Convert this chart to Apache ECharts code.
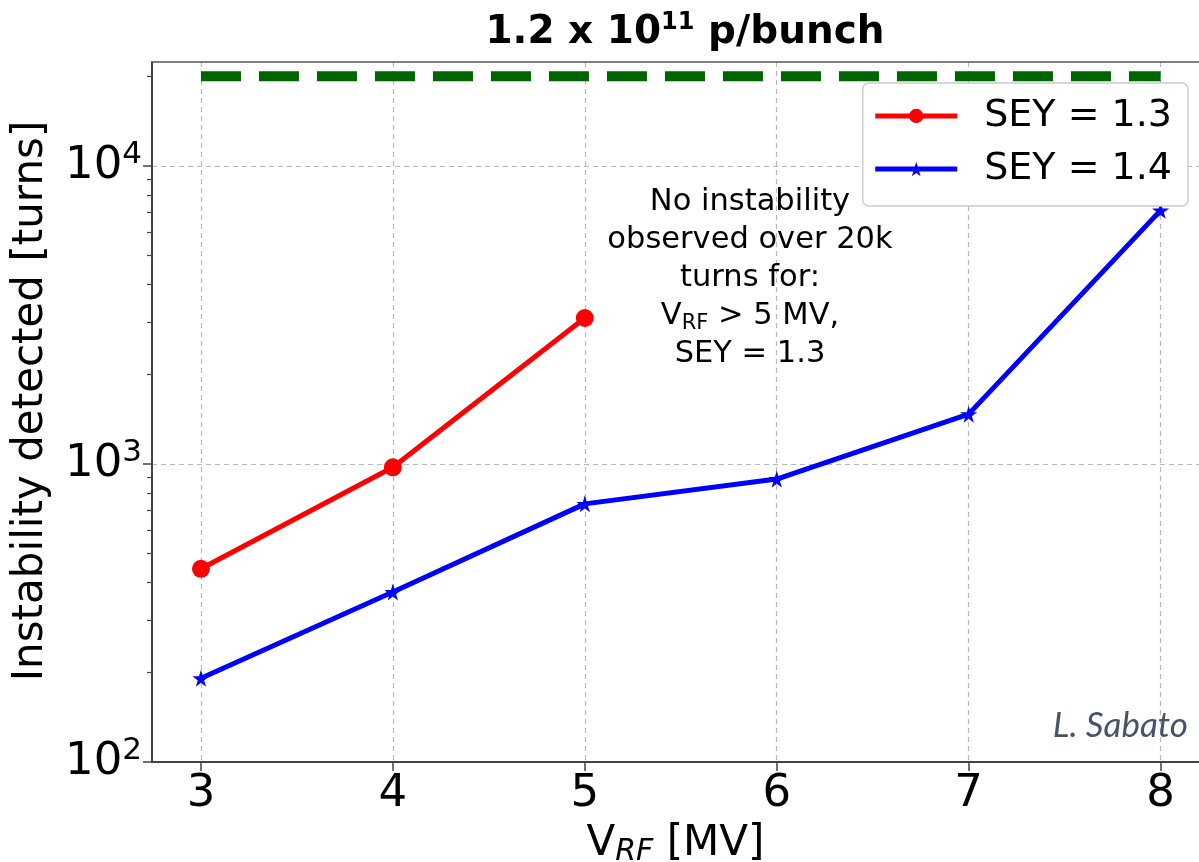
<!DOCTYPE html>
<html>
<head>
<meta charset="utf-8">
<script src="https://cdn.jsdelivr.net/npm/echarts@6/dist/echarts.min.js"></script>
<style>
html,body{margin:0;padding:0;background:#fff;overflow:hidden;}
#chart{width:1199px;height:862px;}
</style>
</head>
<body>
<div id="chart"></div>
<script>
// ---- data ----
const vrf13 = [3, 4, 5];
const turns13 = [445, 975, 3090];
const vrf14 = [3, 4, 5, 6, 7, 8];
const turns14 = [191, 372, 735, 890, 1470, 7100];
const limitX = [3, 8];
const limitTurns = [20000, 20000];
const xTicks = [3, 4, 5, 6, 7, 8];
const yMajor = [100, 1000, 10000];
const seriesNames = ['SEY = 1.3', 'SEY = 1.4'];

const yMinor = [];
[100, 1000, 10000].forEach(function (d) {
  for (let k = 2; k <= 9; k++) { if (k * d < 22340) yMinor.push(k * d); }
});

const FONT = 'DejaVu Sans';
const STAR = 'path://M50,0 L61,35 L98,35 L68,57 L79,91 L50,70 L21,91 L32,57 L2,35 L39,35 Z';

const chart = echarts.init(document.getElementById('chart'), null, {renderer: 'canvas', width: 1199, height: 862});
const option = {
  backgroundColor: '#ffffff',
  animation: false,
  title: {
    text: '{a|1.2 x 10}{s|11}{a| p/bunch}',
    left: 680, top: 4, textAlign: 'center',
    textStyle: {
      rich: {
        a: {fontFamily: FONT, fontWeight: 'bold', fontSize: 39, color: '#000', lineHeight: 48},
        s: {fontFamily: FONT, fontWeight: 'bold', fontSize: 24, color: '#000', lineHeight: 48, padding: [0, 0, 20, 0]}
      }
    }
  },
  legend: {
    data: seriesNames,
    orient: 'vertical',
    right: 11, top: 83,
    itemWidth: 82, itemHeight: 18,
    itemGap: 11,
    padding: [12, 16, 16, 10],
    backgroundColor: '#ffffff',
    borderColor: '#cccccc', borderWidth: 1.5, borderRadius: 6,
    lineStyle: {width: 5},
    textStyle: {fontFamily: FONT, fontSize: 38, color: '#000', padding: [0, 0, 0, 22], lineHeight: 42}
  },
  grid: {left: 152, right: 0, top: 62, bottom: 100, containLabel: false, outerBoundsMode: 'none'},
  xAxis: [{
    type: 'value', min: 2.745, max: 8.2,
    name: '{v|V}{sub|RF}{v| [MV]}',
    nameLocation: 'middle', nameGap: 46,
    nameTextStyle: {
      rich: {
        v: {fontFamily: FONT, fontSize: 42, color: '#000', lineHeight: 48},
        sub: {fontFamily: FONT, fontSize: 30, fontStyle: 'italic', color: '#000', lineHeight: 48, padding: [15, 0, 0, 0]}
      }
    },
    axisLine: {show: true, onZero: false, lineStyle: {color: '#444', width: 2}},
    axisTick: {show: true, customValues: xTicks, length: 9, lineStyle: {color: '#444', width: 1.5}},
    axisLabel: {customValues: xTicks, fontFamily: FONT, fontSize: 45, color: '#000', margin: 10},
    splitLine: {show: true, lineStyle: {color: '#b8b8b8', type: [5, 4], width: 1.2}}
  }, {
    type: 'value', min: 2.745, max: 8.2, position: 'top',
    axisLine: {show: true, onZero: false, lineStyle: {color: '#555', width: 1.5}},
    axisTick: {show: false}, axisLabel: {show: false}, splitLine: {show: false}
  }],
  yAxis: [{
    type: 'log', logBase: 10, min: 100, max: 22340,
    name: 'Instability detected [turns]',
    nameLocation: 'middle', nameGap: 100,
    nameTextStyle: {fontFamily: FONT, fontSize: 42, color: '#000', padding: [0, 0, 0, 22]},
    axisLine: {show: true, onZero: false, lineStyle: {color: '#444', width: 2}},
    axisTick: {show: true, customValues: yMajor, length: 9, lineStyle: {color: '#444', width: 1.5}},
    axisLabel: {
      customValues: yMajor,
      margin: 10,
      formatter: function (v) {
        const e = Math.round(Math.log10(v));
        return '{b|10}{s|' + e + '}';
      },
      rich: {
        b: {fontFamily: FONT, fontSize: 45, color: '#000', lineHeight: 50},
        s: {fontFamily: FONT, fontSize: 31, color: '#000', lineHeight: 50, padding: [0, 0, 22, 0]}
      }
    },
    splitLine: {show: true, lineStyle: {color: '#b8b8b8', type: [5, 4], width: 1.2}}
  }, {
    type: 'log', logBase: 10, min: 100, max: 22340, position: 'left',
    axisLine: {show: false},
    axisTick: {show: true, customValues: yMinor, length: 5, lineStyle: {color: '#444', width: 1.2}},
    axisLabel: {show: false}, splitLine: {show: false}
  }],
  series: [
    {
      name: 'limit', type: 'line', xAxisIndex: 0, yAxisIndex: 0,
      data: limitX.map(function (x, i) { return [x, limitTurns[i]]; }),
      showSymbol: false, symbol: 'none',
      lineStyle: {color: '#006400', width: 10, type: [40, 18], cap: 'butt'},
      silent: true, z: 2
    },
    {
      name: seriesNames[0], type: 'line', xAxisIndex: 0, yAxisIndex: 0,
      data: vrf13.map(function (x, i) { return [x, turns13[i]]; }),
      symbol: 'circle', symbolSize: 18,
      itemStyle: {color: '#ff0000'},
      lineStyle: {color: '#ff0000', width: 5},
      z: 4
    },
    {
      name: seriesNames[1], type: 'line', xAxisIndex: 0, yAxisIndex: 0,
      data: vrf14.map(function (x, i) { return [x, turns14[i]]; }),
      symbol: STAR, symbolSize: 17,
      itemStyle: {color: '#0000ff'},
      lineStyle: {color: '#0000ff', width: 5},
      z: 3
    }
  ],
  graphic: [
    {
      type: 'text', x: 750, y: 183,
      style: {
        align: 'center', verticalAlign: 'top',
        text: '{t|No instability}\n{t|observed over 20k}\n{t|turns for:}\n{t|V}{s|RF}{t| > 5 MV,}\n{t|SEY = 1.3}',
        rich: {
          t: {fontFamily: FONT, fontSize: 30.5, fill: '#000', lineHeight: 38},
          s: {fontFamily: FONT, fontSize: 21, fill: '#000', lineHeight: 38, padding: [16, 0, 0, 0]}
        }
      },
      z: 10
    },
    {
      type: 'text', x: 1188, y: 726,
      style: {
        align: 'right', verticalAlign: 'middle',
        text: 'L. Sabato',
        font: 'italic 35px Lato',
        fill: '#44546a'
      },
      z: 10
    }
  ]
};
chart.setOption(option);
</script>
</body>
</html>
